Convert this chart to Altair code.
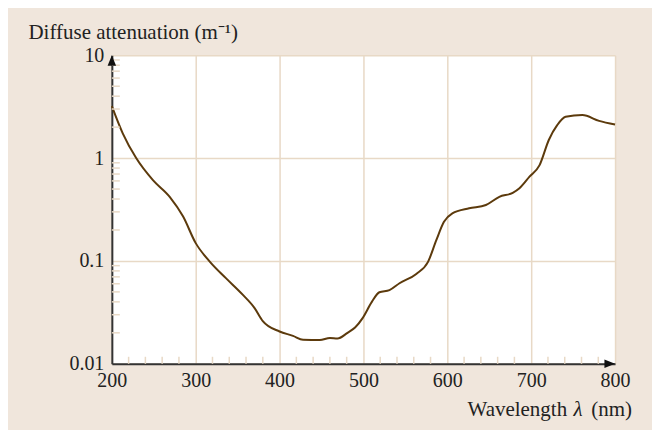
import altair as alt
import pandas as pd

# curve
wavelength = [200, 213, 229, 249, 269, 285, 300, 317, 336, 356, 370, 380, 400, 416, 428, 448,
              460, 469, 481, 490, 499, 510, 519, 531, 543, 563, 577, 587, 596, 606, 626, 646,
              662, 678, 686, 698, 710, 721, 731, 741, 761, 781, 800]
attenuation = [3.2, 1.74, 1.0, 0.61, 0.42, 0.27, 0.149, 0.098, 0.068, 0.047, 0.035, 0.026, 0.0206,
               0.0187, 0.0171, 0.0170, 0.0178, 0.0176, 0.0200, 0.0225, 0.0278, 0.040, 0.0496, 0.052,
               0.0607, 0.0748, 0.098, 0.16, 0.24, 0.29, 0.325, 0.35, 0.42, 0.46, 0.51, 0.66, 0.855,
               1.50, 2.09, 2.52, 2.62, 2.30, 2.12]

x_ticks = [200, 300, 400, 500, 600, 700, 800]
y_ticks = [0.01, 0.1, 1, 10]
x_minor = [220, 240, 260, 280, 320, 340, 360, 380, 420, 440, 460, 480, 520, 540, 560, 580,
           620, 640, 660, 680, 720, 740, 760, 780]
y_minor = [m * d for d in [0.01, 0.1, 1] for m in [2, 3, 4, 5, 6, 7, 8, 9]]

x_title_parts = ["Wavelength", "λ", "(nm)"]
y_title = "Diffuse attenuation (m⁻¹)"

BG = "#f0e6dc"
GRID = "#e8d9c6"
LINE = "#5c3a0c"
FONT = "Liberation Serif"
TXT = "#222"

df = pd.DataFrame({"wl": wavelength, "k": attenuation})
df_xm = pd.DataFrame({"wl": x_minor})
df_ym = pd.DataFrame({"k": y_minor})
df_ax = pd.DataFrame({"wl": [x_ticks[0], x_ticks[-1]], "k": [y_ticks[-1], y_ticks[0]],
                      "dir": ["up", "right"]})

xscale = alt.Scale(domain=[200, 800], nice=False, zero=False)
yscale = alt.Scale(type="log", domain=[0.01, 10], nice=False)

xaxis = alt.Axis(values=x_ticks, format="d", title=None,
                 labelFont=FONT, labelFontSize=20, labelColor=TXT,
                 labelPadding=7, ticks=False, grid=True, gridColor=GRID, gridWidth=1.5,
                 domainColor="#333", domainWidth=2, labelFlush=False)
yaxis = alt.Axis(values=y_ticks,
                 labelExpr="datum.value >= 1 ? format(datum.value, 'd') : format(datum.value, '.2~f')",
                 title=y_title, titleAngle=0,
                 titleAlign="left", titleBaseline="alphabetic", titleX=-84, titleY=-17,
                 titleFont=FONT, titleFontSize=21, titleFontWeight="normal",
                 titleColor=TXT, labelFont=FONT, labelFontSize=20, labelColor=TXT,
                 labelPadding=8, ticks=False, grid=True, gridColor=GRID, gridWidth=1.5,
                 domainColor="#333", domainWidth=2, labelFlush=False)

line = alt.Chart(df).mark_line(color=LINE, strokeWidth=2, interpolate="monotone").encode(
    x=alt.X("wl:Q", scale=xscale, axis=xaxis),
    y=alt.Y("k:Q", scale=yscale, axis=yaxis),
)

xm = alt.Chart(df_xm).mark_rule(color=GRID, strokeWidth=1.5).encode(
    x=alt.X("wl:Q", scale=xscale, axis=xaxis),
    y=alt.value(309), y2=alt.value(302),
)
ym = alt.Chart(df_ym).mark_rule(color=GRID, strokeWidth=1.5).encode(
    y=alt.Y("k:Q", scale=yscale, axis=yaxis),
    x=alt.value(0), x2=alt.value(8),
)

arrows = alt.Chart(df_ax).mark_point(filled=True, color="#111", opacity=1, size=450).encode(
    x=alt.X("wl:Q", scale=xscale, axis=xaxis),
    y=alt.Y("k:Q", scale=yscale, axis=yaxis),
    shape=alt.Shape("dir:N", scale=alt.Scale(domain=["up", "right"],
                    range=["M 0 0 L -0.4 1 L 0.4 1 Z", "M 0 0 L -1 -0.4 L -1 0.4 Z"]),
                    legend=None),
)

def title_piece(text, x, align, style="normal"):
    return alt.Chart(pd.DataFrame({"t": [text]})).mark_text(
        font=FONT, fontSize=21, color=TXT, align=align, baseline="alphabetic",
        fontStyle=style,
    ).encode(text="t:N", x=alt.value(x), y=alt.value(361))

xt1 = title_piece(x_title_parts[0], 456, "right")
xt2 = title_piece(x_title_parts[1], 467, "center", "italic")
xt3 = title_piece(x_title_parts[2], 521, "right")

chart = alt.layer(line, xm, ym, arrows, xt1, xt2, xt3).properties(
    width=504, height=309,
    padding={"left": 104, "top": 47, "right": 37, "bottom": 66},
    autosize=alt.AutoSizeParams(type="none"),
    background=BG,
).configure_view(fill="white", strokeWidth=0)

chart.save("out.html", embed_options={"renderer": "svg", "actions": False})
